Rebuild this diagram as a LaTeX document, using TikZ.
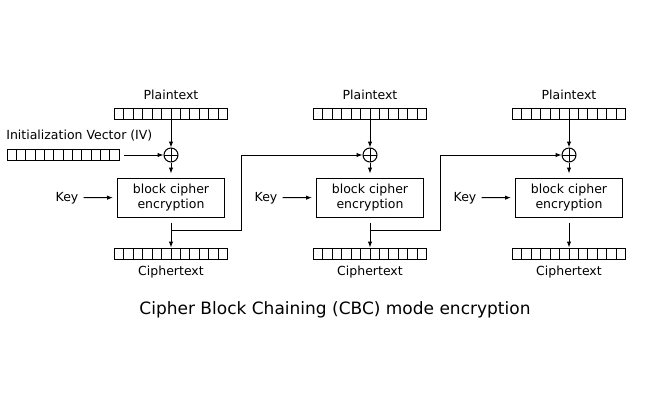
\documentclass[tikz,border=0pt]{standalone}
\usepackage{fontspec}
\setmainfont{DejaVu Sans}
\usetikzlibrary{calc,positioning,arrows.meta}
\tikzset{>={Latex[length=6pt,width=4.5pt]}}
\tikzset{font=\fontsize{12.5}{15.6}\selectfont}
\tikzset{
  % a register of 12 cells
  cellbar/.style={draw, minimum width=113pt, minimum height=11pt, inner sep=0pt,
    path picture={
      \foreach \k in {1,...,11}
        \draw ($(path picture bounding box.south west)!\k/12!(path picture bounding box.south east)$)
          -- ($(path picture bounding box.north west)!\k/12!(path picture bounding box.north east)$);
    }},
  xorsign/.style={draw, circle, minimum size=14pt, inner sep=0pt,
    path picture={
      \draw (path picture bounding box.north) -- (path picture bounding box.south)
            (path picture bounding box.west) -- (path picture bounding box.east);
    }},
  cipherbox/.style={draw, minimum width=107pt, minimum height=39pt, align=center, inner sep=0pt},
}

\begin{document}
\begin{tikzpicture}[x=1pt, y=-1pt, line width=1pt]
  \useasboundingbox (0,0) rectangle (650,400);
  % the three encryption stages
  \foreach \i/\cx in {1/171, 2/370, 3/569}{
    \node[anchor=base] (pt\i) at (\cx,99) {Plaintext};
    \node[cellbar] (p\i) at (\cx,113.5) {};
    \node[xorsign] (x\i) at (\cx,155) {};
    \node[cipherbox] (b\i) at (\cx,197.5) {block cipher\\encryption};
    \node[cellbar] (c\i) at (\cx,253.5) {};
    \node[anchor=base] (ct\i) at (\cx,275.5) {Ciphertext};
    \node[anchor=base] (k\i) at (\cx-104,201) {Key};
    \coordinate (j\i) at (\cx,230);
    \draw[->] (p\i) -- (x\i);
    \draw[->, shorten >=4pt] (x\i) -- (b\i);
    \draw[->, shorten >=4pt, shorten <=1.5pt] (k\i) -- (b\i);
    \draw[->, shorten <=5pt] (b\i) -- (c\i);
  }
  % initialization vector
  \node[anchor=base west] (ivl) at (2.5,139) {Initialization Vector (IV)};
  \node[cellbar, minimum width=112pt] (iv) at (63,155) {};
  \draw[->, shorten <=4.5pt] (iv) -- (x1);
  % chaining
  \foreach \i/\j in {1/2, 2/3}
    \draw[->] (j\i) -- ++(70.5,0) |- (x\j);
  \node[anchor=base, font=\fontsize{17}{20}\selectfont] (title) at (335,314)
    {Cipher Block Chaining (CBC) mode encryption};
\end{tikzpicture}
\end{document}
